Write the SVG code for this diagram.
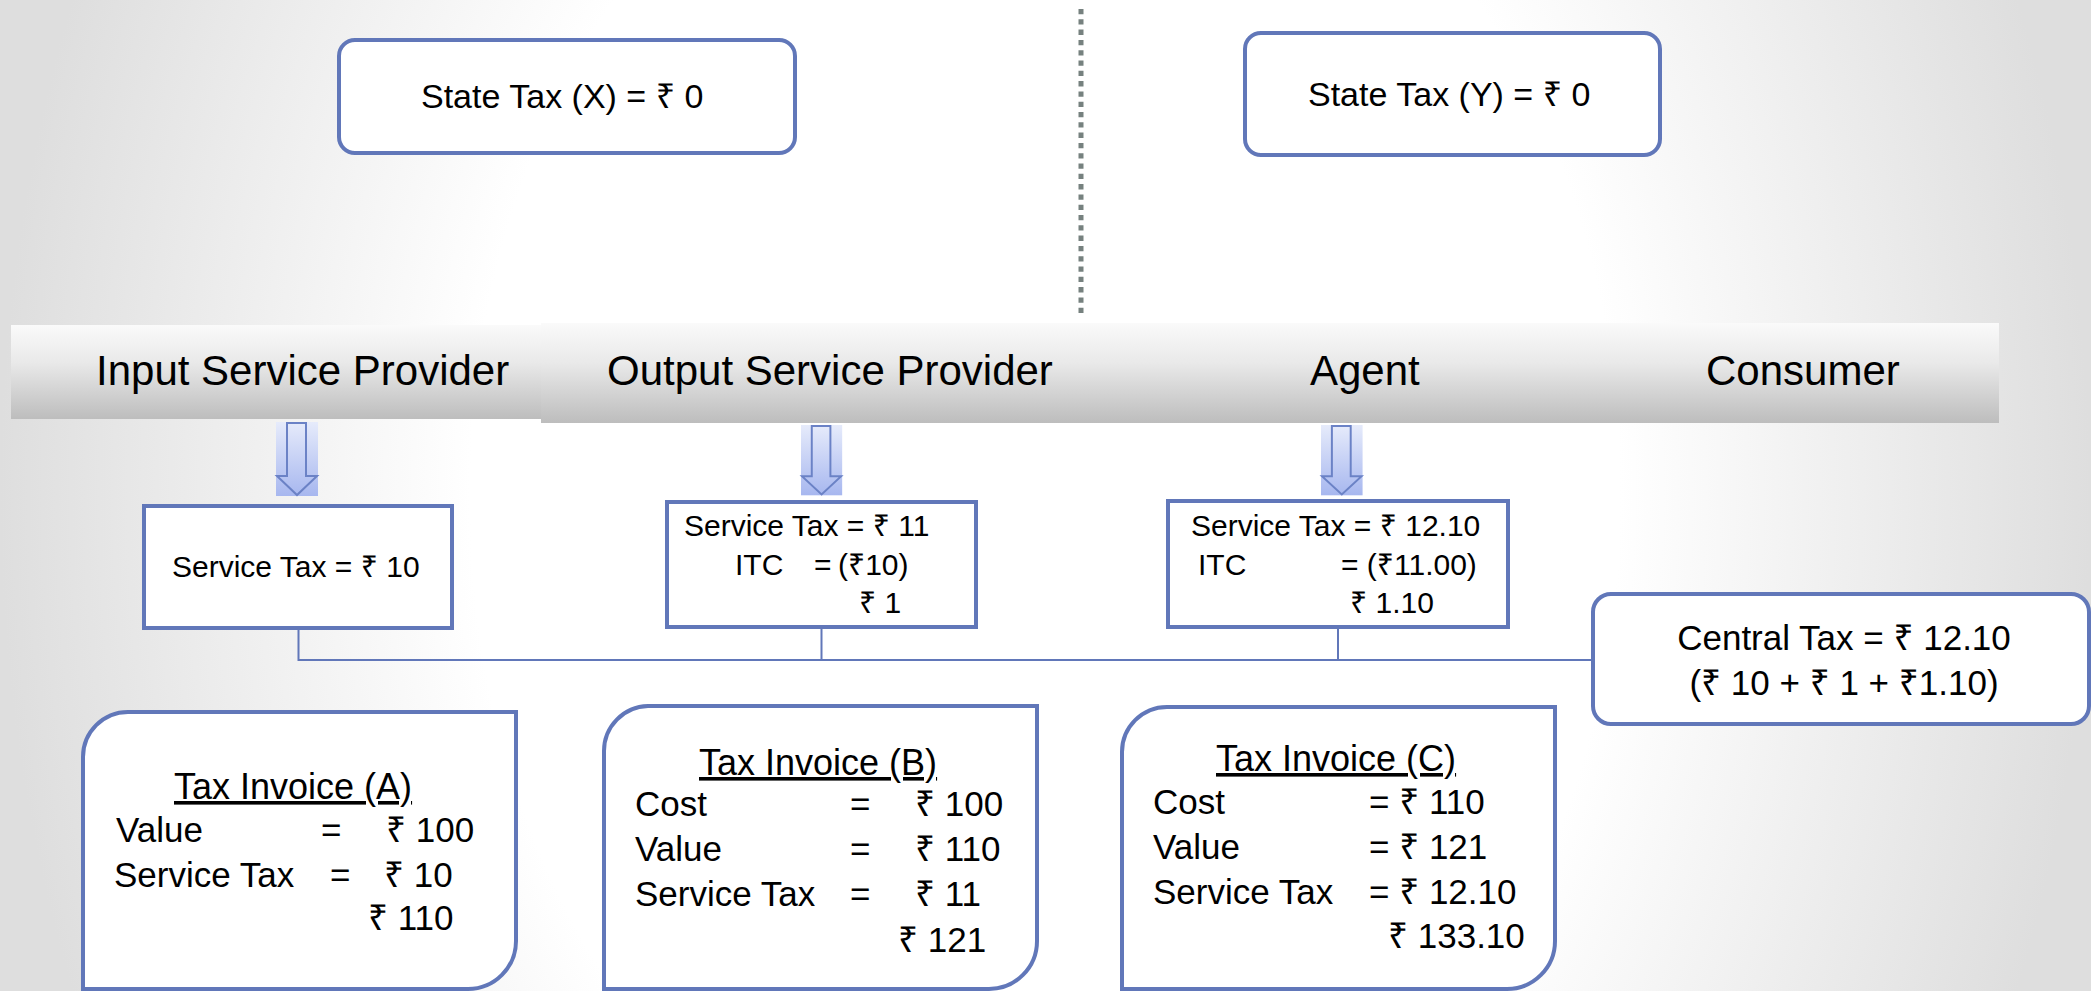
<svg xmlns="http://www.w3.org/2000/svg" width="2091" height="991" viewBox="0 0 2091 991">
<defs>
<radialGradient id="bg" gradientUnits="userSpaceOnUse" cx="1045" cy="495" r="1045" gradientTransform="translate(1045 495) scale(1 1.3) translate(-1045 -495)">
<stop offset="0" stop-color="#ffffff"/>
<stop offset="0.55" stop-color="#ffffff"/>
<stop offset="1" stop-color="#dedede"/>
</radialGradient>
<linearGradient id="band" x1="0" y1="0" x2="0" y2="1">
<stop offset="0" stop-color="#fafafa"/>
<stop offset="0.4" stop-color="#e9e9e9"/>
<stop offset="1" stop-color="#bdbdbd"/>
</linearGradient>
<linearGradient id="arrowFill" x1="0" y1="0" x2="0" y2="1">
<stop offset="0" stop-color="#e6ebfb"/>
<stop offset="1" stop-color="#a7b7ef"/>
</linearGradient>
<g id="arrow">
<rect x="0" y="0" width="42" height="74" fill="url(#arrowFill)"/>
<path d="M11,1 H30 V54 H41 L21,73 L1,54 H11 Z" fill="none" stroke="#6b82c6" stroke-width="2"/>
</g>
</defs>
<style>
text{font-family:"Liberation Sans","Noto Sans","DejaVu Sans",sans-serif;fill:#000;}
.box{fill:#ffffff;stroke:#6177b9;stroke-width:4;}
.conn{fill:none;stroke:#6177b9;stroke-width:2;}
.hdr{font-size:42px;}
.st{font-size:34px;}
.sm{font-size:30px;}
.inv{font-size:35px;}
.head{font-size:36px;text-decoration:underline;}
</style>
<rect x="0" y="0" width="2091" height="991" fill="url(#bg)"/>

<g id="separator">
<line x1="1081" y1="9" x2="1081" y2="318" stroke="#76817f" stroke-width="5" stroke-dasharray="5.3 5"/>
</g>

<g id="state-tax-x">
<rect class="box" x="339" y="40" width="456" height="113" rx="16"/>
<text class="st" x="421" y="108">State Tax (X) = ₹ 0</text>
</g>
<g id="state-tax-y">
<rect class="box" x="1245" y="33" width="415" height="122" rx="16"/>
<text class="st" x="1308" y="106">State Tax (Y) = ₹ 0</text>
</g>

<g id="header-band">
<rect x="11" y="325" width="530" height="94" fill="url(#band)"/>
<rect x="541" y="323" width="1458" height="100" fill="url(#band)"/>
<text class="hdr" x="96" y="385">Input Service Provider</text>
<text class="hdr" x="607" y="385">Output Service Provider</text>
<text class="hdr" x="1310" y="385">Agent</text>
<text class="hdr" x="1706" y="385">Consumer</text>
</g>

<g id="arrows">
<use href="#arrow" transform="translate(276,422)"/>
<use href="#arrow" transform="translate(801,425) scale(0.98 0.95)"/>
<use href="#arrow" transform="translate(1321,425) scale(0.99 0.95)"/>
</g>

<g id="connectors">
<path class="conn" d="M298.5,628 V660 H1593"/>
<path class="conn" d="M821.5,627 V660"/>
<path class="conn" d="M1338,627 V660"/>
</g>

<g id="service-tax-input">
<rect class="box" x="144" y="506" width="308" height="122"/>
<text class="sm" x="172" y="577">Service Tax = ₹ 10</text>
</g>
<g id="service-tax-output">
<rect class="box" x="667" y="502" width="309" height="125"/>
<text class="sm" x="684" y="536">Service Tax = ₹ 11</text>
<text class="sm" x="735" y="575">ITC</text>
<text class="sm" x="814" y="575">=</text>
<text class="sm" x="838" y="575">(₹10)</text>
<text class="sm" x="859" y="613">₹ 1</text>
</g>
<g id="service-tax-agent">
<rect class="box" x="1168" y="501" width="340" height="126"/>
<text class="sm" x="1191" y="536">Service Tax = ₹ 12.10</text>
<text class="sm" x="1198" y="575">ITC</text>
<text class="sm" x="1341" y="575">= (₹11.00)</text>
<text class="sm" x="1350" y="613">₹ 1.10</text>
</g>
<g id="central-tax">
<rect class="box" x="1593" y="594" width="496" height="130" rx="18"/>
<text class="inv" x="1844" y="650" text-anchor="middle">Central Tax = ₹ 12.10</text>
<text class="inv" x="1844" y="695" text-anchor="middle">(₹ 10 + ₹ 1 + ₹1.10)</text>
</g>

<g id="invoice-a">
<path class="box" d="M128,712 H516 V941 A48,48 0 0 1 468,989 H83 V757 A45,45 0 0 1 128,712 Z"/>
<text class="head" x="174" y="799">Tax Invoice (A)</text>
<text class="inv" x="116" y="842">Value</text>
<text class="inv" x="321" y="842">=</text>
<text class="inv" x="386" y="842">₹ 100</text>
<text class="inv" x="114" y="887">Service Tax</text>
<text class="inv" x="330" y="887">=</text>
<text class="inv" x="384" y="887">₹ 10</text>
<text class="inv" x="368" y="930">₹ 110</text>
</g>
<g id="invoice-b">
<path class="box" d="M648,706 H1037 V941 A48,48 0 0 1 989,989 H604 V751 A45,45 0 0 1 648,706 Z"/>
<text class="head" x="699" y="775">Tax Invoice (B)</text>
<text class="inv" x="635" y="816">Cost</text>
<text class="inv" x="850" y="816">=</text>
<text class="inv" x="915" y="816">₹ 100</text>
<text class="inv" x="635" y="861">Value</text>
<text class="inv" x="850" y="861">=</text>
<text class="inv" x="915" y="861">₹ 110</text>
<text class="inv" x="635" y="906">Service Tax</text>
<text class="inv" x="850" y="906">=</text>
<text class="inv" x="915" y="906">₹ 11</text>
<text class="inv" x="898" y="952">₹ 121</text>
</g>
<g id="invoice-c">
<path class="box" d="M1167,707 H1555 V941 A48,48 0 0 1 1507,989 H1122 V752 A45,45 0 0 1 1167,707 Z"/>
<text class="head" x="1216" y="771">Tax Invoice (C)</text>
<text class="inv" x="1153" y="814">Cost</text>
<text class="inv" x="1369" y="814">= ₹ 110</text>
<text class="inv" x="1153" y="859">Value</text>
<text class="inv" x="1369" y="859">= ₹ 121</text>
<text class="inv" x="1153" y="904">Service Tax</text>
<text class="inv" x="1369" y="904">= ₹ 12.10</text>
<text class="inv" x="1388" y="948">₹ 133.10</text>
</g>
</svg>
